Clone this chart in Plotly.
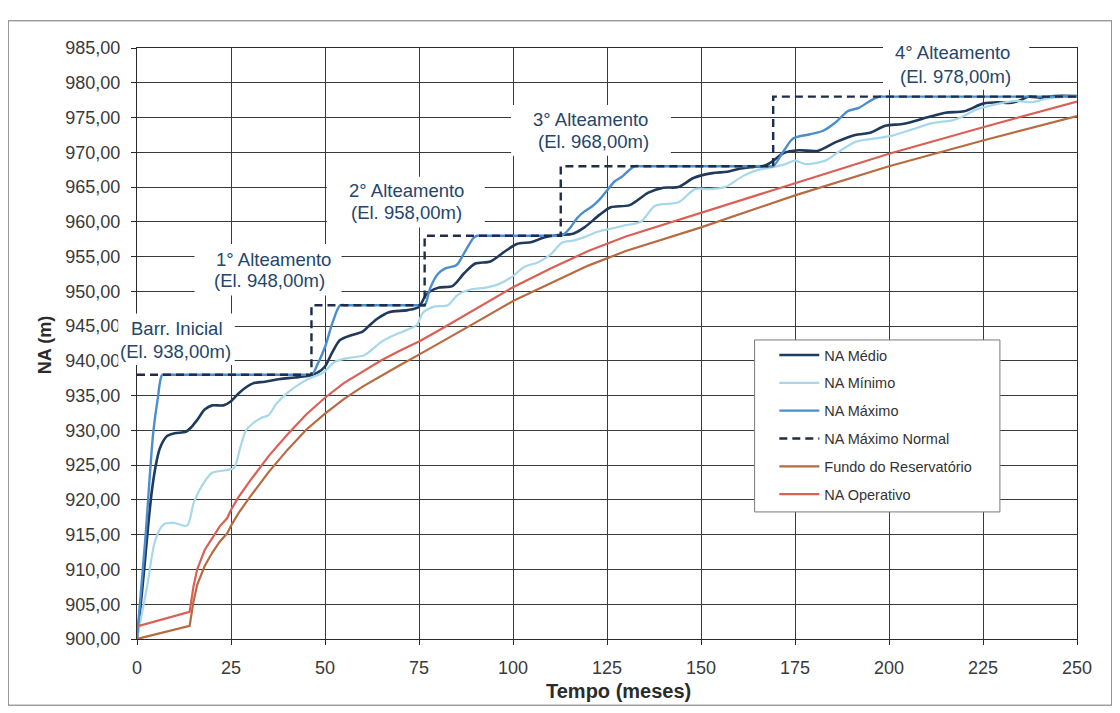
import plotly.graph_objects as go

# ---------------- data ----------------
MEAN_M = [0, 1, 2, 3, 4, 5, 6, 7, 8, 10, 13, 14.5, 16, 18, 20, 23, 25, 27, 29, 31,
          34, 38, 42, 46, 48, 50, 52, 54, 57, 60, 62, 64, 67, 72, 75, 77, 80, 84, 87, 90,
          94, 98, 101, 105, 108, 112, 116, 119, 123, 126, 131, 136, 140, 144, 148, 153, 157, 160, 164, 167,
          169, 172, 176, 181, 186, 191, 195, 199, 204, 210, 215, 220, 225, 229, 232, 235, 237, 241, 244, 250]
MEAN_V = [900, 905, 910.5, 916.5, 921.5, 925, 927.3, 928.5, 929.2, 929.6, 929.8, 930.5, 931.5, 933, 933.6, 933.6, 934.2, 935.3, 936.2, 936.8,
          937, 937.4, 937.6, 937.9, 938.3, 939.2, 941.3, 943, 943.7, 944.2, 945.2, 946.1, 947, 947.3, 947.8, 949.6, 950.5, 950.8, 952.6, 954,
          954.3, 955.8, 956.8, 957.1, 957.7, 958.1, 958.3, 959.2, 961, 962.1, 962.4, 964.2, 964.9, 965, 966.3, 967, 967.2, 967.6, 967.9, 968.1,
          968.7, 969.9, 970.3, 970.2, 971.5, 972.5, 972.8, 973.8, 974.1, 975, 975.7, 975.9, 977, 977.2, 977.1, 977.5, 978, 977.8, 978.1, 978.1]

MIN_M = [0, 2.7, 4.9, 7.1, 9.8, 13.3, 15.1, 17.8, 20, 24, 25.8, 27.5, 29, 31, 33, 35, 37, 40, 43.6, 46,
         49.8, 52.4, 56, 60.4, 64.9, 68, 72, 74.5, 76, 79, 82.7, 85.3, 89, 92.4, 96, 99.5, 103, 106.7, 110, 113,
         116, 119, 122.7, 126, 129.8, 134, 137.8, 144, 148.4, 152, 156.4, 160.9, 165.3, 167.5, 172.4, 175, 177.8, 183.1, 186.7, 191.1,
         196.4, 200.9, 206.2, 211.5, 216.9, 219.5, 223, 229.3, 233.8, 238, 241.8, 247, 250]
MIN_V = [900, 907.6, 914.3, 916.5, 916.7, 916.3, 919.6, 922.5, 923.9, 924.3, 924.6, 927.6, 930, 931.1, 931.8, 932.2, 933.8, 935.4, 936.8, 937.5,
         938.4, 939.8, 940.4, 940.8, 942.7, 943.6, 944.5, 945.2, 946.9, 947.8, 948, 949.5, 950.3, 950.5, 951, 952, 953.5, 954.2, 955.3, 957,
         957.3, 957.8, 958.6, 959, 959.5, 960, 962.3, 962.8, 964.7, 964.7, 965, 966.5, 967.5, 967.7, 968.3, 968.8, 968.3, 968.8, 970.1, 971.5,
         972, 972.4, 973.3, 974.2, 974.6, 975.1, 976.1, 977, 977.4, 977.2, 977.7, 978, 978]

MAX_M = [0, 2.2, 4.3, 5.5, 6.7, 8, 45, 46.5, 48, 50, 52, 54, 55.5, 75, 76.5, 78, 80, 82, 85, 87,
         89.5, 90.5, 92, 111.5, 113, 115, 117, 119, 121, 123, 125, 127, 129, 131, 132.5, 134, 167.5, 169.2, 172, 174.5,
         179, 182.5, 186, 189, 192, 195, 197.5, 199, 250]
MAX_V = [900, 914.3, 929.6, 934.5, 938, 938, 938, 938, 939.5, 942, 945.5, 948, 948, 948, 948, 950.5, 952.5, 953.3, 953.8, 955.5,
         957.7, 958, 958, 958, 958, 959, 960.5, 961.5, 962.2, 963.2, 964.5, 965.8, 966.5, 967.5, 968, 968, 968, 968, 970.2, 972,
         972.6, 973.1, 974.4, 975.9, 976.4, 977.4, 978, 978, 978]

# NA Máximo Normal: crest level of each stage and the month it starts
NORMAL_M = [0, 46.4, 76.5, 112.7, 169.2, 250]
NORMAL_V = [938, 948, 958, 968, 978, 978]

RES_M = [0, 14, 15, 16, 18, 20, 22, 24, 25, 27, 30, 35, 40, 45, 50, 55, 60, 65, 70, 75,
         80, 90, 100, 110, 120, 130, 140, 150, 175, 200, 225, 250]
OPER_V = [901.8, 903.9, 907.5, 910, 912.8, 914.6, 916.2, 917.4, 918.6, 920.4, 922.7, 926.3, 929.4, 932.3, 934.7, 936.8, 938.5, 940.1, 941.5, 942.8,
          944.3, 947.5, 950.6, 953.3, 955.8, 957.9, 959.6, 961.2, 965.5, 969.8, 973.6, 977.3]
FUNDO_V = [900, 901.9, 905.3, 907.8, 910.5, 912.4, 914, 915.2, 916.3, 918.1, 920.4, 924, 927.2, 930.1, 932.4, 934.5, 936.3, 937.9, 939.4, 940.9,
           942.4, 945.5, 948.6, 951.2, 953.7, 955.8, 957.5, 959.2, 963.8, 968, 971.7, 975.2]

X_TICKS = list(range(0, 251, 25))
Y_TICKS = list(range(900, 986, 5))

# stage labels: (month, level, text) for each text line
STAGE_LABELS = [
    (10.6, 944.6, "Barr. Inicial"), (10.3, 941.4, "(El. 938,00m)"),
    (36.4, 954.6, "1° Alteamento"), (35.3, 951.5, "(El. 948,00m)"),
    (71.6, 964.5, "2° Alteamento"), (71.8, 961.4, "(El. 958,00m)"),
    (120.7, 974.7, "3° Alteamento"), (121.5, 971.5, "(El. 968,00m)"),
    (216.9, 984.4, "4° Alteamento"), (217.6, 980.9, "(El. 978,00m)"),
]
# white boxes behind the labels: (month from, month to, level from, level to)
LABEL_BOXES = [
    (-5.0, 26.0, 939.4, 946.8),
    (15.3, 54.4, 949.4, 956.8),
    (50.5, 92.5, 959.2, 966.5),
    (99.5, 142.0, 969.5, 976.8),
    (198.4, 237.3, 979.0, 986.5),
]

# ---------------- figure ----------------
FONT = "Liberation Sans, Arial, sans-serif"
fig = go.Figure()

def add(x, y, name, color, width, shape="linear", dash=None):
    fig.add_trace(go.Scatter(
        x=x, y=y, mode="lines", name=name, legendgroup=name,
        line=dict(color=color, width=width, shape=shape, dash=dash,
                  smoothing=0.8 if shape == "spline" else None),
        hoverinfo="skip"))

# added in legend order
add(MEAN_M, MEAN_V, "NA Médio", "#1f3a5c", 2.6, "spline")
add(MIN_M, MIN_V, "NA Mínimo", "#a6d8ea", 2.2, "spline")
add(MAX_M, MAX_V, "NA Máximo", "#4a8ecd", 2.4, "spline")
add(NORMAL_M, NORMAL_V, "NA Máximo Normal", "#1e2d4a", 2.4, "hv", dash="8px,5px")
add(RES_M, FUNDO_V, "Fundo do Reservatório", "#b86a40", 2.2)
add(RES_M, OPER_V, "NA Operativo", "#dc5f55", 2.2)

X_RANGE = [0, 250]
Y_RANGE = [900, 985]

axis_common = dict(showline=True, linecolor="#2b2b2b", linewidth=1, mirror=True,
                   showgrid=True, gridcolor="#3a3a3a", gridwidth=1,
                   ticks="outside", ticklen=5, tickcolor="#2b2b2b",
                   zeroline=False, ticklabelstandoff=7,
                   tickfont=dict(family=FONT, size=18, color="#3a3a3a"))

fig.update_xaxes(range=X_RANGE, tickvals=X_TICKS, ticktext=[str(v) for v in X_TICKS], **axis_common)
fig.update_yaxes(range=Y_RANGE, tickvals=Y_TICKS, tickformat=".2f", **axis_common)

ann_font = dict(family=FONT, size=18.5, color="#24466b")
annotations = [dict(x=x, y=y, xref="x", yref="y", text=t, showarrow=False,
                    xanchor="center", yanchor="middle", font=ann_font)
               for x, y, t in STAGE_LABELS]
annotations.append(dict(x=-0.098, y=0.497, xref="paper", yref="paper", text="<b>NA (m)</b>",
                        textangle=-90, showarrow=False, xanchor="center", yanchor="middle",
                        font=dict(family=FONT, size=18, color="#2b2b2b")))
annotations.append(dict(x=0.512, y=-0.088, xref="paper", yref="paper", text="<b>Tempo (meses)</b>",
                        showarrow=False, xanchor="center", yanchor="middle",
                        font=dict(family=FONT, size=20, color="#2b2b2b")))

def px_(m):
    return (m - X_RANGE[0]) / (X_RANGE[1] - X_RANGE[0])

def py_(v):
    return (v - Y_RANGE[0]) / (Y_RANGE[1] - Y_RANGE[0])

shapes = [
    # chart-area frame
    dict(type="rect", xref="paper", yref="paper", x0=-0.137, x1=1.037, y0=-0.112, y1=1.046,
         line=dict(color="#6f6f6f", width=1), fillcolor="rgba(0,0,0,0)", layer="below"),
    # legend frame
    dict(type="rect", xref="paper", yref="paper", x0=0.657, x1=0.918, y0=0.215, y1=0.506,
         line=dict(color="#7a7a7a", width=1), fillcolor="white", layer="above"),
]
for m0, m1, v0, v1 in LABEL_BOXES:
    shapes.append(dict(type="rect", xref="paper", yref="paper",
                       x0=px_(m0), x1=px_(m1), y0=py_(v0), y1=py_(v1),
                       line=dict(width=0), fillcolor="white", layer="above"))

fig.update_layout(
    width=1112, height=705,
    margin=dict(l=129, r=43, t=40, b=74),
    paper_bgcolor="white", plot_bgcolor="white",
    separators=",.",
    font=dict(family=FONT, size=15, color="#3a3a3a"),
    annotations=annotations, shapes=shapes,
    legend=dict(x=0.678, y=0.5076, xanchor="left", yanchor="top",
                bgcolor="rgba(0,0,0,0)", borderwidth=0, itemwidth=40,
                font=dict(family=FONT, size=14.5, color="#333333"),
                tracegroupgap=6, traceorder="grouped"),
    showlegend=True,
)

fig.write_html("out.html")
